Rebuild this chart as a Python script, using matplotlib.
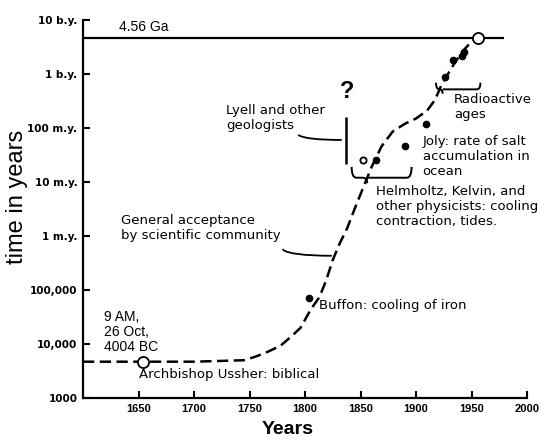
import numpy as np
import matplotlib
matplotlib.use("Agg")
import matplotlib.pyplot as plt
from matplotlib.path import Path
from matplotlib.patches import PathPatch

plt.rcParams['font.family'] = ['Liberation Sans', 'DejaVu Sans']

# accepted age of the earth through history (years)
curve_years = [1600, 1650, 1700, 1745, 1755, 1766, 1778, 1788, 1796, 1805, 1813, 1819,
               1825, 1831, 1838, 1845, 1852, 1860, 1869, 1879, 1890, 1900, 1910, 1917,
               1923, 1932, 1941, 1950, 1956]
curve_ages = [4.7e3, 4.7e3, 4.7e3, 5.0e3, 5.8e3, 7.1e3, 9.3e3, 1.4e4, 2.0e4, 4.3e4, 7.4e4, 1.5e5,
              3.6e5, 7.1e5, 1.4e6, 3.3e6, 7.5e6, 1.9e7, 4.6e7, 8.6e7, 1.2e8, 1.5e8, 2.1e8, 3.3e8,
              6.3e8, 1.3e9, 2.5e9, 4.0e9, 4.56e9]

# individual estimates
ussher = (1654, 4.7e3)
buffon = (1804, 7.0e4)
helmholtz_open = (1852, 2.6e7)
dot_years = [1864, 1890, 1909]
dot_ages = [2.6e7, 4.7e7, 1.2e8]
radio_years = [1926, 1933, 1941, 1943]
radio_ages = [8.7e8, 1.8e9, 2.2e9, 2.6e9]
modern_age = 4.56e9
modern_year = 1956

ytick_vals = [1e3, 1e4, 1e5, 1e6, 1e7, 1e8, 1e9, 1e10]
ytick_labels = ['1000', '10,000', '100,000', '1 m.y.', '10 m.y.', '100 m.y.', '1 b.y.', '10 b.y.']
xtick_vals = [1650, 1700, 1750, 1800, 1850, 1900, 1950, 2000]

fig = plt.figure(figsize=(5.44, 4.40), dpi=100)
ax = fig.add_axes([0.1526, 0.0955, 0.8162, 0.859])
ax.set_yscale('log')
ax.set_xlim(1600, 2000)
ax.set_ylim(1e3, 1e10)

for s in ['top', 'right']:
    ax.spines[s].set_visible(False)
for s in ['left', 'bottom']:
    ax.spines[s].set_linewidth(1.6)

ax.set_yticks(ytick_vals)
ax.set_yticklabels(ytick_labels, fontsize=7.5, fontweight='bold', family='DejaVu Sans')
ax.yaxis.set_minor_locator(matplotlib.ticker.NullLocator())
ax.set_xticks(xtick_vals)
ax.set_xticklabels([str(v) for v in xtick_vals], fontsize=8, fontweight='bold')
ax.tick_params(direction='in', length=5, width=1.5, pad=4)

ax.set_ylabel('time in years', fontsize=17)
ax.yaxis.set_label_coords(-0.124, 0.532)
ax.set_xlabel('Years', fontsize=14, fontweight='bold')
ax.xaxis.set_label_coords(0.462, -0.06)

# present-day age
ax.hlines(modern_age, 1600, 1979, color='black', lw=1.6)
ax.annotate('4.56 Ga', xy=(1632, modern_age), xytext=(0, 3), textcoords='offset points',
            fontsize=10, va='bottom')

# main dashed curve
ax.plot(curve_years, curve_ages, color='black', lw=1.8, linestyle=(0, (4.5, 2.2)))

ax.plot(*ussher, 'o', ms=8, mfc='white', mec='black', mew=1.3)
ax.plot(modern_year, modern_age, 'o', ms=8, mfc='white', mec='black', mew=1.3)
ax.plot(*helmholtz_open, 'o', ms=4.5, mfc='white', mec='black', mew=1.3)
ax.plot(*buffon, 'o', ms=4.5, color='black')
ax.plot(dot_years, dot_ages, 'o', ms=4.5, color='black', ls='none')
ax.plot(radio_years, radio_ages, 'o', ms=4.5, color='black', ls='none')


def brace(x0, x1, xt, y_end, y_mid, y_tip):
    # curly bracket opening upward, tip pointing down at xt
    d = (x1 - x0) * 0.08
    verts = [(x0, y_end), (x0, y_mid), (x0 + d, y_mid),
             (xt - d, y_mid), (xt, y_mid), (xt, y_tip),
             (xt, y_mid), (xt + d, y_mid),
             (x1 - d, y_mid), (x1, y_mid), (x1, y_end)]
    codes = [Path.MOVETO, Path.CURVE3, Path.CURVE3,
             Path.LINETO, Path.CURVE3, Path.CURVE3,
             Path.MOVETO, Path.CURVE3,
             Path.LINETO, Path.CURVE3, Path.CURVE3]
    ax.add_patch(PathPatch(Path(verts, codes), fill=False, lw=1.4, color='black'))


txt = dict(fontsize=9.5, color='black', family='DejaVu Sans')
leader = dict(arrowstyle='-', lw=1.3, connectionstyle='angle3,angleA=-90,angleB=0')

ax.text(1619, 4.3e4, '9 AM,\n26 Oct,\n4004 BC', fontsize=10, va='top', linespacing=1.1)
ax.text(1650, 2.7e3, 'Archbishop Ussher: biblical', va='center', **txt)
ax.text(1813, 5.2e4, 'Buffon: cooling of iron', va='center', **txt)

ax.text(1634, 2.6e6, 'General acceptance\nby scientific community', va='top', **txt)
ax.annotate('', xy=(1826, 4.3e5), xytext=(1779, 6.2e5), arrowprops=leader)

ax.text(1729, 1.55e8, 'Lyell and other\ngeologists', va='center', **txt)
ax.annotate('', xy=(1835, 6.0e7), xytext=(1793, 8.1e7), arrowprops=leader)
ax.vlines(1837, 2.2e7, 1.6e8, color='black', lw=1.8)
ax.text(1838, 4.7e8, '?', fontsize=17, fontweight='bold', ha='center', va='center')

brace(1842, 1896, 1856, 1.9e7, 1.2e7, 0.95e7)
ax.text(1864, 8.7e6, 'Helmholtz, Kelvin, and\nother physicists: cooling\ncontraction, tides.',
        va='top', **txt)

ax.text(1906, 7.4e7, 'Joly: rate of salt\naccumulation in\nocean', va='top', **txt)

brace(1918, 1958, 1924, 6.9e8, 5.2e8, 4.3e8)
ax.text(1934, 4.5e8, 'Radioactive\nages', va='top', **txt)

fig.savefig('out.png', dpi=100)
